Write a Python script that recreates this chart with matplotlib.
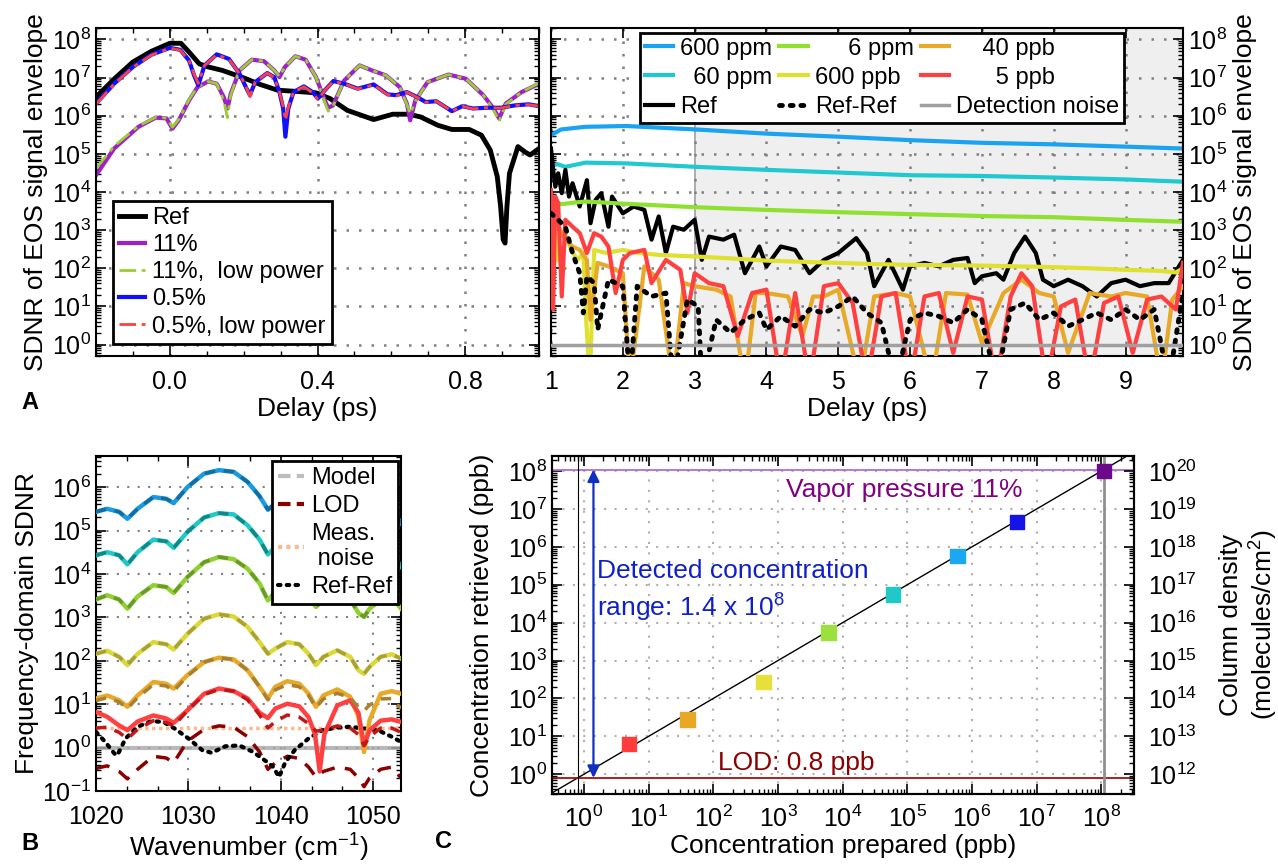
import numpy as np
import matplotlib
matplotlib.use('Agg')
import matplotlib.pyplot as plt
from matplotlib.lines import Line2D
from matplotlib.ticker import LogLocator, NullFormatter, MultipleLocator, FormatStrFormatter, AutoMinorLocator

plt.rcParams['font.family'] = ['Liberation Sans', 'DejaVu Sans']
plt.rcParams['mathtext.fontset'] = 'custom'
plt.rcParams['mathtext.rm'] = 'Liberation Sans'
plt.rcParams['mathtext.it'] = 'Liberation Sans:italic'
plt.rcParams['mathtext.bf'] = 'Liberation Sans:bold'
plt.rcParams['font.size'] = 19
plt.rcParams['axes.linewidth'] = 1.5

FS = 19      # axis labels and annotations
TS = 18      # tick labels
LS = 17      # legends

# ---------------- panel A, left: delay -0.2 .. 1 ps (values are log10 SDNR)
ref_a_t = [-0.2, -0.15, -0.1, -0.05, 0.0, 0.03, 0.052, 0.08, 0.104, 0.142, 0.198, 0.245, 0.292, 0.34,
           0.396, 0.434, 0.481, 0.552, 0.604, 0.646, 0.679, 0.726, 0.764, 0.811, 0.844, 0.868, 0.887,
           0.896, 0.903, 0.908, 0.913, 0.92, 0.943, 0.962, 0.976, 1.0]
ref_a_log = [6.49, 6.97, 7.41, 7.69, 7.9, 7.9, 7.67, 7.36, 7.28, 7.19, 7.0, 6.82, 6.67, 6.64, 6.6, 6.45,
             6.14, 5.9, 6.04, 6.04, 5.97, 5.75, 5.64, 5.64, 5.49, 5.1, 4.4, 3.62, 2.75, 2.66, 3.6, 4.49,
             5.19, 5.05, 4.97, 5.14]

p11_t = [-0.2, -0.151, -0.085, -0.038, -0.009, 0.007, 0.024, 0.052, 0.075, 0.104, 0.127, 0.146, 0.156,
         0.165, 0.189, 0.222, 0.255, 0.283, 0.297, 0.311, 0.34, 0.368, 0.396, 0.42, 0.429, 0.442, 0.472,
         0.514, 0.547, 0.585, 0.623, 0.642, 0.651, 0.665, 0.698, 0.755, 0.802, 0.849, 0.877, 0.892, 0.91,
         0.953, 1.0]
p11_log = [4.44, 5.14, 5.71, 5.95, 5.93, 5.66, 5.88, 6.4, 6.75, 6.9, 6.84, 6.49, 6.19, 6.58, 7.19, 7.47,
           7.43, 7.19, 7.01, 7.27, 7.56, 7.47, 7.01, 6.4, 6.21, 6.27, 6.92, 7.32, 7.19, 7.06, 6.75, 6.32,
           5.88, 6.4, 6.88, 7.08, 6.97, 6.54, 6.19, 5.93, 6.32, 6.62, 6.84]
p11_low_log = [4.62, 5.2, 5.73, 5.96, 5.94, 5.7, 5.9, 6.42, 6.76, 6.9, 6.84, 6.4, 5.95, 6.55, 7.19, 7.47,
               7.43, 7.19, 7.03, 7.27, 7.56, 7.47, 7.01, 6.35, 6.12, 6.25, 6.92, 7.32, 7.19, 7.06, 6.75,
               6.3, 6.05, 6.38, 6.88, 7.08, 6.97, 6.54, 6.15, 5.85, 6.3, 6.62, 6.86]

b05_t = [-0.2, -0.15, -0.1, -0.05, 0.0, 0.028, 0.052, 0.066, 0.077, 0.094, 0.127, 0.16, 0.189, 0.208,
         0.217, 0.231, 0.264, 0.283, 0.297, 0.307, 0.313, 0.321, 0.335, 0.363, 0.387, 0.401, 0.42, 0.443,
         0.472, 0.509, 0.552, 0.59, 0.613, 0.642, 0.67, 0.693, 0.722, 0.764, 0.792, 0.821, 0.858, 0.896,
         0.934, 0.972, 1.0]
b05_log = [6.32, 6.85, 7.28, 7.6, 7.78, 7.73, 7.45, 7.05, 6.8, 7.32, 7.61, 7.49, 7.1, 6.71, 6.54, 6.88,
           7.12, 7.01, 6.62, 6.19, 5.45, 6.19, 6.62, 6.77, 6.62, 6.45, 6.67, 6.91, 6.84, 6.71, 6.82, 6.56,
           6.54, 6.62, 6.49, 6.36, 6.38, 6.12, 6.25, 6.19, 6.21, 6.21, 6.27, 6.3, 6.25]
b05_low_log = [6.3, 6.84, 7.27, 7.59, 7.77, 7.72, 7.45, 7.08, 6.85, 7.32, 7.6, 7.48, 7.1, 6.72, 6.5, 6.88,
               7.12, 7.0, 6.62, 6.25, 5.88, 6.22, 6.62, 6.76, 6.6, 6.42, 6.67, 6.9, 6.84, 6.7, 6.81, 6.55,
               6.52, 6.62, 6.48, 6.35, 6.38, 6.12, 6.25, 6.18, 6.21, 6.2, 6.27, 6.29, 6.25]

# ---------------- panel A, right: delay 1 .. 9.8 ps (log10 SDNR)
b600_t = [1.0, 1.14, 1.48, 2.05, 3.02, 4.01, 5.01, 6.0, 7.0, 7.99, 8.99, 9.8]
b600_log = [5.49, 5.64, 5.71, 5.73, 5.64, 5.53, 5.45, 5.36, 5.29, 5.25, 5.19, 5.14]
c60_t = [1.0, 1.03, 1.09, 1.2, 1.48, 2.05, 3.02, 4.01, 5.01, 6.0, 7.0, 7.99, 8.99, 9.8]
c60_log = [4.4, 4.7, 4.73, 4.66, 4.77, 4.75, 4.66, 4.58, 4.51, 4.44, 4.42, 4.38, 4.33, 4.27]
g6_t = [1.0, 1.05, 1.15, 1.31, 1.48, 2.05, 3.02, 4.01, 5.01, 6.0, 7.0, 7.99, 8.99, 9.8]
g6_log = [3.62, 3.75, 3.68, 3.72, 3.75, 3.69, 3.6, 3.53, 3.47, 3.42, 3.37, 3.34, 3.27, 3.22]
y600_t = [1.0, 1.03, 1.08, 1.11, 1.2, 1.28, 1.37, 1.45, 1.49, 1.54, 1.6, 1.77, 2.0, 2.22, 2.51, 3.0, 3.5,
          4.0, 4.5, 5.0, 5.5, 6.0, 6.5, 7.0, 7.5, 8.0, 8.5, 9.0, 9.5, 9.7, 9.8]
y600_log = [3.6, 3.36, 2.2, 2.83, 2.92, 2.48, 2.22, 2.4, 0.65, -1, 2.48, 2.4, 2.48, 2.4, 2.35, 2.31, 2.26,
            2.2, 2.17, 2.14, 2.11, 2.09, 2.08, 2.07, 2.05, 2.03, 2.0, 1.96, 1.93, 1.89, 2.0]
o40_t = [1.0, 1.1, 1.2, 1.3, 1.4, 1.5, 1.55, 1.65, 1.8, 2.0, 2.1, 2.3, 2.5, 2.7, 2.85, 3.0, 3.3, 3.5, 3.7,
         3.85, 4.0, 4.3, 4.5, 4.65, 4.8, 5.0, 5.3, 5.5, 5.8, 6.0, 6.3, 6.5, 6.8, 7.0, 7.3, 7.55, 7.8, 8.0,
         8.2, 8.5, 8.8, 9.0, 9.3, 9.5, 9.65, 9.8]
o40_log = [2.92, 3.09, 2.75, 2.57, 2.48, 2.22, 0.65, 2.14, 2.05, 1.87, -1, 2.05, 1.7, -1, 1.61, 1.53, 1.44,
           1.26, -1, 1.35, 1.35, 1.26, 0.22, 1.26, 1.26, 1.44, -1, 1.26, 1.35, 1.26, -1, 1.35, 1.31, 0.04,
           1.35, 1.7, 1.35, 1.26, -0.22, 1.35, 1.26, 1.35, 1.26, -1, 1.18, 1.53]
r5_t = [1.0, 1.03, 1.06, 1.1, 1.15, 1.2, 1.3, 1.4, 1.5, 1.6, 1.7, 1.8, 1.9, 2.0, 2.1, 2.3, 2.4, 2.6, 2.8,
        2.9, 3.0, 3.2, 3.4, 3.6, 3.8, 4.0, 4.2, 4.4, 4.6, 4.8, 5.0, 5.2, 5.4, 5.6, 5.8, 6.0, 6.2, 6.4, 6.6,
        6.8, 7.0, 7.2, 7.4, 7.55, 7.7, 7.9, 8.1, 8.3, 8.5, 8.7, 8.9, 9.1, 9.3, 9.5, 9.7, 9.8]
r5_log = [4.05, 0.92, 3.88, 3.7, 1.26, 3.27, 3.09, 2.92, 2.4, 2.92, 2.83, 2.57, 1.35, 2.22, 2.4, 2.48, 1.61,
          2.22, 1.96, 0.83, 1.87, 1.61, 1.53, 0.22, 1.35, 1.44, -1, 1.35, -1, 1.53, 1.61, 1.09, -1, 1.26,
          1.35, -1, 1.26, 1.35, -0.22, 1.26, 1.18, -1, 1.26, 1.87, 1.53, -1, 1.0, 1.18, -1, 1.09, 1.26,
          -0.22, 1.18, 1.26, 0.92, 2.14]
ref_t = [1.0, 1.03, 1.06, 1.1, 1.15, 1.2, 1.25, 1.3, 1.4, 1.5, 1.55, 1.62, 1.7, 1.8, 1.85, 2.0, 2.15, 2.3,
         2.4, 2.5, 2.6, 2.7, 2.85, 3.0, 3.1, 3.2, 3.4, 3.55, 3.7, 3.9, 4.0, 4.2, 4.4, 4.6, 4.8, 5.0, 5.25,
         5.4, 5.5, 5.7, 5.9, 6.0, 6.2, 6.4, 6.6, 6.8, 6.9, 7.0, 7.2, 7.3, 7.45, 7.6, 7.75, 7.85, 8.0, 8.2,
         8.4, 8.6, 8.8, 9.0, 9.2, 9.4, 9.6, 9.8]
ref_log = [5.14, 4.58, 4.14, 4.49, 3.97, 4.58, 3.88, 4.23, 3.62, 4.31, 3.18, 3.79, 3.97, 3.09, 3.88, 3.44,
           3.62, 3.53, 2.75, 3.36, 2.4, 3.09, 3.01, 3.27, 2.22, 2.83, 2.75, 2.88, 1.87, 2.57, 2.05, 2.57,
           2.48, 1.87, 2.22, 2.4, 2.79, 2.4, 1.53, 2.22, 1.44, 2.05, 2.14, 2.05, 2.22, 2.27, 1.61, 1.79,
           1.87, 1.7, 2.4, 2.83, 2.4, 1.7, 1.53, 1.7, 1.53, 1.26, 1.61, 1.7, 1.53, 1.61, 1.61, 2.22]
rr_t = [1.0, 1.1, 1.2, 1.3, 1.4, 1.45, 1.5, 1.6, 1.65, 1.8, 2.0, 2.1, 2.2, 2.4, 2.6, 2.7, 2.9, 3.05, 3.1,
        3.3, 3.5, 3.7, 3.9, 4.0, 4.2, 4.4, 4.6, 4.8, 5.0, 5.2, 5.4, 5.6, 5.8, 6.0, 6.2, 6.4, 6.6, 6.8, 7.0,
        7.2, 7.4, 7.6, 7.8, 8.0, 8.2, 8.4, 8.6, 8.8, 9.0, 9.2, 9.4, 9.6, 9.8]
rr_log = [3.44, 3.27, 3.09, 2.4, 1.87, 0.83, 1.79, 1.61, 0.39, 1.7, 1.53, -1, 1.53, 1.26, 1.35, -1, 1.18,
          1.0, -1, 0.65, 0.31, 0.65, 0.83, 0.39, 0.74, 0.48, 0.92, 0.83, 1.0, 1.26, 0.83, 0.57, -1, 0.65,
          0.83, 0.74, 0.57, 0.92, 0.65, -1, 0.92, 1.09, 0.65, 0.83, 0.48, 0.65, 0.83, 0.65, 0.92, 0.65,
          0.92, -1, 1.35]
detection_noise = 1.0
shade_start, shade_end = 3.0, 9.8

# ---------------- panel B: frequency domain (log10 SDNR)
wn = [1020.0, 1021.2, 1022.5, 1023.4, 1024.5, 1026.2, 1027.6, 1028.4, 1029.9, 1031.7, 1033.3, 1034.9,
      1036.4, 1037.7, 1038.6, 1039.4, 1040.7, 1042.0, 1043.0, 1043.8, 1044.6, 1046.1, 1047.5, 1048.4,
      1049.0, 1049.6, 1050.8, 1052.0, 1053.0]
fb600 = [5.43, 5.5, 5.43, 5.27, 5.5, 5.77, 5.73, 5.63, 6.0, 6.31, 6.39, 6.35, 6.12, 5.79, 5.48, 5.62, 5.75,
         5.7, 5.5, 5.25, 5.42, 5.57, 5.43, 5.15, 5.05, 5.2, 5.42, 5.47, 5.17]
fc60 = [4.43, 4.5, 4.43, 4.22, 4.5, 4.79, 4.75, 4.6, 4.97, 5.3, 5.4, 5.37, 5.12, 4.79, 4.45, 4.62, 4.75,
        4.7, 4.5, 4.27, 4.43, 4.58, 4.43, 4.15, 4.07, 4.22, 4.43, 4.47, 4.17]
fg6 = [3.41, 3.51, 3.41, 3.2, 3.48, 3.74, 3.7, 3.56, 3.93, 4.27, 4.39, 4.34, 4.12, 3.78, 3.39, 3.58, 3.72,
       3.66, 3.47, 3.24, 3.41, 3.55, 3.41, 3.1, 3.01, 3.2, 3.41, 3.45, 3.2]
fy600 = [2.16, 2.23, 2.09, 1.9, 2.16, 2.43, 2.38, 2.26, 2.62, 2.97, 3.07, 3.02, 2.78, 2.43, 2.16, 2.28, 2.43,
         2.38, 2.16, 1.9, 2.09, 2.24, 2.09, 1.78, 1.7, 1.86, 2.09, 2.15, 2.05]
fo40 = [1.13, 1.2, 1.09, 0.94, 1.2, 1.51, 1.47, 1.36, 1.67, 1.97, 2.07, 2.03, 1.78, 1.4, 1.13, 1.4, 1.53,
        1.47, 1.24, 0.94, 1.2, 1.34, 1.17, 0.71, -0.1, 0.63, 1.24, 1.3, 1.24]
fo40_model = [1.08, 1.15, 1.05, 0.9, 1.15, 1.45, 1.42, 1.3, 1.65, 1.97, 2.07, 2.03, 1.78, 1.4, 1.1, 1.33,
              1.45, 1.4, 1.2, 0.92, 1.12, 1.25, 1.15, 0.92, 0.85, 0.98, 1.12, 1.13, 0.9]
fr5_model = [0.45, 0.47, 0.35, 0.2, 0.42, 0.62, 0.58, 0.5, 0.85, 1.22, 1.34, 1.3, 1.1, 0.75, 0.45, 0.6,
             0.75, 0.7, 0.55, 0.38, 0.4, 0.5, 0.45, 0.3, 0.05, 0.25, 0.45, 0.45, 0.35]
flod = [-0.48, -0.42, -0.55, -0.72, -0.5, -0.2, -0.24, -0.35, 0.15, 0.42, 0.5, 0.47, 0.25, -0.1, -0.5,
        -0.35, -0.2, -0.25, -0.45, -0.68, -0.55, -0.45, -0.5, -0.7, -0.9, -0.7, -0.5, -0.45, -0.7]
red_wn = [1020.0, 1021.2, 1022.5, 1023.4, 1024.5, 1026.2, 1027.6, 1028.4, 1029.9, 1031.7, 1033.3, 1034.9,
          1036.4, 1037.7, 1038.6, 1039.4, 1040.7, 1042.0, 1043.0, 1043.7, 1044.2, 1044.7, 1046.1, 1047.5,
          1048.4, 1049.0, 1049.6, 1050.8, 1052.0, 1053.0]
fr5 = [0.82, 0.71, 0.51, 0.4, 0.6, 0.74, 0.67, 0.57, 0.86, 1.24, 1.36, 1.3, 1.13, 0.8, 0.68, 0.9, 1.01,
       0.95, 0.7, 0.3, -0.55, 0.3, 0.97, 1.09, 0.8, 0.05, 0.4, 0.62, 0.65, 0.59]
rr_wn = [1020.0, 1021.0, 1022.0, 1022.3, 1023.2, 1024.5, 1026.0, 1027.3, 1028.5, 1030.0, 1031.5, 1032.5,
         1034.0, 1035.5, 1037.0, 1038.5, 1039.2, 1039.8, 1040.5, 1041.5, 1043.0, 1044.5, 1046.0, 1047.5,
         1049.0, 1050.5, 1052.0, 1053.0]
frr = [0.36, 0.13, -0.14, -0.18, 0.21, 0.48, 0.61, 0.59, 0.44, 0.21, -0.06, -0.12, 0.03, 0.05, -0.1,
       -0.33, -0.45, -0.68, -0.33, -0.06, 0.21, 0.4, 0.46, 0.48, 0.44, 0.4, 0.25, 0.13]
meas_noise = 2.9

# ---------------- panel C
c_prepared = [5, 40, 600, 6e3, 6e4, 6e5, 5e6, 1.1e8]
c_retrieved = [6.2, 28, 270, 5.5e3, 5.6e4, 5.8e5, 4.5e6, 1.0e8]
c_colors = ['#ff3b3b', '#e8a825', '#e6e03c', '#9be03c', '#20c8c8', '#1aa8f0', '#1414e6', '#6a0a8a']
c_decades = [1, 10, 100, 1e3, 1e4, 1e5, 1e6, 1e7, 1e8]
col_decades = [1e12, 1e13, 1e14, 1e15, 1e16, 1e17, 1e18, 1e19, 1e20]
vapor = 1.1e8
lod = 0.8
range_x = 1.4
col_factor = 1e12

col_b600, col_c60, col_g6 = '#1aa3f0', '#20c8d0', '#90e030'
col_y600, col_o40, col_r5 = '#e0e030', '#e8a828', '#ff4040'

W, H = 1278, 864
fig = plt.figure(figsize=(W / 100, H / 100), dpi=100)


def log_y(ax, axis='y'):
    a = ax.yaxis if axis == 'y' else ax.xaxis
    a.set_major_locator(LogLocator(base=10, numticks=100))
    a.set_minor_locator(LogLocator(base=10, subs=np.arange(2, 10), numticks=100))
    a.set_minor_formatter(NullFormatter())


def ticks(ax):
    ax.tick_params(which='both', direction='in', top=True, right=True, labelsize=TS)
    ax.tick_params(which='major', length=7, width=1.2)
    ax.tick_params(which='minor', length=3.5, width=1)
    ax.tick_params(axis='x', which='major', pad=10)


def boxed(leg):
    leg.get_frame().set_edgecolor('black')
    leg.get_frame().set_linewidth(2)


def p10(v):
    return 10.0 ** np.array(v)


# ===== A left
ax1 = fig.add_axes([96 / W, 1 - 356 / H, 443 / W, 328 / H])
ax1.plot(ref_a_t, p10(ref_a_log), color='black', lw=3.5, label='Ref')
ax1.plot(p11_t, p10(p11_log), color='#a020c8', lw=3, label='11%')
ax1.plot(p11_t, p10(p11_low_log), color='#9acd32', lw=2, ls=(0, (6, 2, 1.5, 2)), label='11%,  low power')
ax1.plot(b05_t, p10(b05_log), color='#1010ff', lw=3, label='0.5%')
ax1.plot(b05_t, p10(b05_low_log), color='#ff4040', lw=2, ls=(0, (6, 2, 1.5, 2)), label='0.5%, low power')
ax1.set_yscale('log')
ax1.set_xlim(-0.2, 1.0)
ax1.set_ylim(0.5, 2e8)
log_y(ax1)
ax1.xaxis.set_major_locator(MultipleLocator(0.4))
ax1.xaxis.set_minor_locator(MultipleLocator(0.1))
ax1.xaxis.set_major_formatter(FormatStrFormatter('%.1f'))
ax1.grid(True, which='major', ls=(0, (1, 4)), color='#808080', lw=1.8)
ticks(ax1)
ax1.set_xlabel('Delay (ps)', fontsize=FS, labelpad=2)
ax1.set_ylabel('SDNR of EOS signal envelope', fontsize=FS, labelpad=3)
leg = ax1.legend(loc='lower left', bbox_to_anchor=(0.039, 0.038), borderaxespad=0, fontsize=LS,
                 handlelength=1.1, labelspacing=0.22, handletextpad=0.3, borderpad=0.25,
                 fancybox=False, framealpha=1)
boxed(leg)

# ===== A right
ax2 = fig.add_axes([551 / W, 1 - 356 / H, 632 / W, 328 / H])
ax2.axvspan(shade_start, shade_end, color='#efefef', zorder=0)
ax2.axvline(shade_start, color='#a0a0a0', lw=1.2, zorder=0.5)
ax2.plot(b600_t, p10(b600_log), color=col_b600, lw=3, label='600 ppm')
ax2.plot(c60_t, p10(c60_log), color=col_c60, lw=3, label='  60 ppm')
ax2.plot(ref_t, p10(ref_log), color='black', lw=3, label='Ref')
ax2.plot(g6_t, p10(g6_log), color=col_g6, lw=3, label='     6 ppm')
ax2.plot(y600_t, p10(y600_log), color=col_y600, lw=3, label='600 ppb')
ax2.plot(o40_t, p10(o40_log), color=col_o40, lw=3, zorder=3, label='    40 ppb')
ax2.plot(r5_t, p10(r5_log), color=col_r5, lw=3, zorder=3.2, label='      5 ppb')
ax2.plot(rr_t, p10(rr_log), color='black', lw=3.5, ls=(0, (0.6, 1.6)), dash_capstyle='round', zorder=3.5,
         label='Ref-Ref')
ax2.axhline(detection_noise, color='#a0a0a0', lw=2.5, zorder=3.6, label='Detection noise')
ax2.set_yscale('log')
ax2.set_xlim(1, 9.8)
ax2.set_ylim(0.5, 2e8)
log_y(ax2)
ax2.xaxis.set_major_locator(MultipleLocator(1))
ax2.grid(True, which='major', ls=(0, (1, 4)), color='#808080', lw=1.8)
ticks(ax2)
ax2.tick_params(labelleft=False, labelright=True)
ax2.yaxis.set_label_position('right')
ax2.set_xlabel('Delay (ps)', fontsize=FS, labelpad=2)
ax2.set_ylabel('SDNR of EOS signal envelope', fontsize=FS, labelpad=4)
h, l = ax2.get_legend_handles_labels()
order = [0, 1, 2, 3, 4, 7, 5, 6, 8]
leg2 = ax2.legend([h[i] for i in order], [l[i] for i in order], ncol=3, loc='upper left',
                  bbox_to_anchor=(0.141, 0.985), borderaxespad=0, fontsize=LS, handlelength=1.2,
                  columnspacing=0.3, labelspacing=0.3, handletextpad=0.3, borderpad=0.2,
                  fancybox=False, framealpha=1)
boxed(leg2)

# ===== B
ax3 = fig.add_axes([96 / W, 1 - 791 / H, 305 / W, 335 / H])
ax3.axhline(detection_noise, color='#a8a8a8', lw=3, alpha=0.8)
ax3.axhline(meas_noise, color='#ffb890', lw=2.5, ls=(0, (1, 1)))
ax3.plot(wn, p10(flod), color='#8b0000', lw=2.5, ls=(0, (4, 3)))
ax3.plot(rr_wn, p10(frr), color='black', lw=3, ls=(0, (0.6, 1.5)), dash_capstyle='round', zorder=2.5)
for vals, col, mcol in [(fb600, '#1a9ae0', '#106ea0'), (fc60, '#20c8c8', '#108888'),
                        (fg6, '#90d030', '#6a9a28'), (fy600, '#dcd838', '#a8a038')]:
    ax3.plot(wn, p10(vals), color=col, lw=3.2, zorder=3)
    ax3.plot(wn, p10(vals), color=mcol, lw=2.5, ls=(0, (3, 2.5)), zorder=3.2)
ax3.plot(wn, p10(fo40), color='#e8a828', lw=3.2, zorder=3)
ax3.plot(wn, p10(fo40_model), color='#a88030', lw=2.5, ls=(0, (3, 2.5)), zorder=3.2)
ax3.plot(red_wn, p10(fr5), color='#ff4040', lw=3.2, zorder=3)
ax3.plot(wn, p10(fr5_model), color='#c01818', lw=2.5, ls=(0, (3, 2.5)), zorder=3.2)
ax3.set_yscale('log')
ax3.set_xlim(1020, 1053)
ax3.set_ylim(0.1, 5.2e6)
log_y(ax3)
ax3.xaxis.set_major_locator(MultipleLocator(10))
ax3.xaxis.set_minor_locator(AutoMinorLocator(3))
ax3.grid(True, which='major', ls=(0, (1, 4)), color='#808080', lw=1.5)
ticks(ax3)
ax3.set_xlabel('Wavenumber (cm$^{-1}$)', fontsize=FS, labelpad=2)
ax3.set_ylabel('Frequency-domain SDNR', fontsize=FS, labelpad=2)
hb = [Line2D([], [], color='#bdbdbd', lw=3, ls=(0, (3, 1.5))),
      Line2D([], [], color='#8b0000', lw=3, ls=(0, (3, 1.5))),
      Line2D([], [], color='#ffb890', lw=3, ls=(0, (1, 1))),
      Line2D([], [], color='black', lw=3, ls=(0, (0.6, 1.5)), dash_capstyle='round')]
leg3 = ax3.legend(hb, ['Model', 'LOD', 'Meas.\n noise', 'Ref-Ref'], loc='upper right',
                  bbox_to_anchor=(0.99, 0.985), borderaxespad=0, fontsize=LS, handlelength=1.1,
                  handletextpad=0.3, labelspacing=0.25, borderpad=0.25, fancybox=False, framealpha=1)
boxed(leg3)
leg3.set_zorder(5)

# ===== C
ax4 = fig.add_axes([552 / W, 1 - 794 / H, 582 / W, 338 / H])
ax4.set_xscale('log')
ax4.set_yscale('log')
ax4.axline((1, 1), (10, 10), color='black', lw=1)
ax4.axhline(vapor, color='#b070d0', lw=1.3)
ax4.axhline(lod, color='#a01010', lw=1.3)
ax4.axvline(lod, color='black', lw=0.8)
ax4.axvline(vapor, color='#909090', lw=2)
ax4.scatter(c_prepared, c_retrieved, c=c_colors, marker='s', s=110, zorder=4)
ax4.annotate('', xy=(range_x, vapor), xytext=(range_x, lod),
             arrowprops=dict(arrowstyle='<|-|>', color='#1030c0', lw=1.6, mutation_scale=18,
                             shrinkA=0, shrinkB=0))
ax4.text(1.6, 2.3e5, 'Detected concentration', color='#1020c8', fontsize=FS, va='center')
ax4.text(1.6, 2.4e4, 'range: 1.4 x 10$^8$', color='#1020c8', fontsize=FS, va='center')
ax4.text(1350, 3.1e7, 'Vapor pressure 11%', color='#800080', fontsize=FS, va='center')
ax4.text(117, 1.95, 'LOD: 0.8 ppb', color='#8b0000', fontsize=FS, va='center')
log_y(ax4, 'x')
log_y(ax4, 'y')
ax4.set_xticks(c_decades)
ax4.set_yticks(c_decades)
ax4.set_xlim(0.32, 3.2e8)
ax4.set_ylim(0.3, 2.5e8)
ax4.grid(True, which='major', ls=(0, (1, 4)), color='#b0b0b0', lw=1.5)
ax4.tick_params(which='both', direction='in', top=True, right=False, labelsize=TS)
ax4.tick_params(which='major', length=7, width=1.2)
ax4.tick_params(which='minor', length=3.5, width=1)
ax4.tick_params(axis='x', which='major', pad=8)
ax4.set_xlabel('Concentration prepared (ppb)', fontsize=FS, labelpad=2)
ax4.set_ylabel('Concentration retrieved (ppb)', fontsize=FS, labelpad=10)
ax5 = ax4.twinx()
ax5.set_yscale('log')
log_y(ax5)
ax5.set_yticks(col_decades)
ax5.set_ylim(0.3 * col_factor, 2.5e8 * col_factor)
ax5.tick_params(which='both', direction='in', labelsize=TS)
ax5.tick_params(which='major', length=7, width=1.2, pad=10)
ax5.tick_params(which='minor', length=3.5, width=1)
ax5.set_ylabel('Column density\n(molecules/cm$^2$)', fontsize=FS, labelpad=16)

fig.text(30 / W, 1 - 403 / H, 'A', fontsize=17, weight='bold', ha='center', va='center')
fig.text(30 / W, 1 - 843 / H, 'B', fontsize=17, weight='bold', ha='center', va='center')
fig.text(443 / W, 1 - 842 / H, 'C', fontsize=17, weight='bold', ha='center', va='center')

fig.savefig('out.png', dpi=100)
